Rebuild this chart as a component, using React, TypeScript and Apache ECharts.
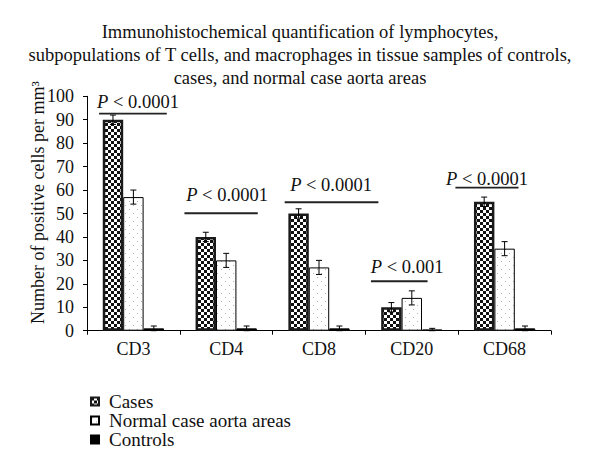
import React, { useEffect, useRef } from "react";
import * as echarts from "echarts";

const categories = ["CD3", "CD4", "CD8", "CD20", "CD68"];
const casesValues = [90, 40, 50, 10, 55];
const casesErrors = [2, 2, 2, 2, 2];
const normalValues = [57, 30, 27, 14, 35];
const normalErrors = [3, 3, 3, 3, 3];
const controlValues = [1, 1, 1, 0.5, 1];
const controlErrors = [1, 1, 1, 0.5, 1];
const yTicks = [0, 10, 20, 30, 40, 50, 60, 70, 80, 90, 100];

// P-value annotations (data units; x offsets in category-band fractions)
const pLabels = ["0.0001", "0.0001", "0.0001", "0.001", "0.0001"];
const pLineValue = [92.6, 50.1, 54.8, 21.1, 61.0];
const pLineFrom = [-0.37, -0.45, -0.37, -0.44, -0.53];
const pLineTo = [0.36, 0.34, 0.64, 0.17, 0.15];
const pTextOffset = [0.05, 0.01, 0.13, -0.05, -0.19];
const pTextValue = [97.4, 57.8, 62.3, 27.1, 64.6];

const FONT = "'Liberation Serif', 'Times New Roman', serif";
const CAT_GAP = 0.34;

function makeChecker() {
  const c = document.createElement("canvas");
  c.width = 6;
  c.height = 6;
  const ctx = c.getContext("2d")!;
  ctx.fillStyle = "#ffffff";
  ctx.fillRect(0, 0, 6, 6);
  ctx.fillStyle = "#111111";
  ctx.fillRect(0, 0, 3, 3);
  ctx.fillRect(3, 3, 3, 3);
  return c;
}

function makeDots() {
  const c = document.createElement("canvas");
  c.width = 8;
  c.height = 8;
  const ctx = c.getContext("2d")!;
  ctx.fillStyle = "#ffffff";
  ctx.fillRect(0, 0, 8, 8);
  ctx.fillStyle = "#b0b0b0";
  ctx.fillRect(1, 1, 1, 1);
  ctx.fillRect(5, 5, 1, 1);
  return c;
}

function errorSeries(values: number[], errors: number[], slot: number) {
  return {
    type: "custom",
    silent: true,
    z: 5,
    data: values.map((v, i) => [i, v, errors[i]]),
    renderItem: (params: any, api: any) => {
      const idx = api.value(0);
      const v = api.value(1);
      const e = api.value(2);
      const band = api.size([1, 0])[0];
      const bw = (band * (1 - CAT_GAP)) / 3;
      const cx = api.coord([idx, 0])[0] + slot * bw;
      const top = api.coord([idx, v + e])[1];
      const bot = api.coord([idx, Math.max(0, v - e)])[1];
      const cap = 3;
      const st = { stroke: "#000", lineWidth: 1 };
      return {
        type: "group",
        children: [
          { type: "line", shape: { x1: cx, y1: top, x2: cx, y2: bot }, style: st },
          { type: "line", shape: { x1: cx - cap, y1: top, x2: cx + cap, y2: top }, style: st },
          { type: "line", shape: { x1: cx - cap, y1: bot, x2: cx + cap, y2: bot }, style: st },
        ],
      };
    },
  };
}

export default function App() {
  const ref = useRef<HTMLDivElement>(null);

  useEffect(() => {
    if (!ref.current) return;
    const chart = echarts.init(ref.current, undefined, { renderer: "svg" });
    const checker = makeChecker();
    const dots = makeDots();

    const pData = categories.map((_, i) => [
      i,
      pLineValue[i],
      pLineFrom[i],
      pLineTo[i],
      pTextOffset[i],
      pTextValue[i],
    ]);

    const option: any = {
      animation: false,
      backgroundColor: "#ffffff",
      title: {
        text:
          "Immunohistochemical quantification of lymphocytes,\nsubpopulations of T cells, and macrophages in tissue samples of controls,\ncases, and normal case aorta areas",
        left: "center",
        top: 15,
        textStyle: {
          fontFamily: FONT,
          fontSize: 18.5,
          fontWeight: "normal",
          color: "#111",
          lineHeight: 23,
        },
      },
      grid: { left: 87, right: 49, top: 96.3, bottom: 141.3, containLabel: false },
      legend: {
        orient: "vertical",
        left: 85,
        top: 387,
        itemWidth: 8,
        itemHeight: 8,
        itemGap: 0,
        icon: "rect",
        data: ["Cases", "Normal case aorta areas", "Controls"],
        textStyle: {
          fontFamily: FONT,
          fontSize: 19,
          color: "#111",
          lineHeight: 19,
          padding: [0, 0, 0, 5],
        },
      },
      xAxis: {
        type: "category",
        data: categories,
        axisLine: { show: true, lineStyle: { color: "#000", width: 1 } },
        axisTick: { show: true, length: 4, lineStyle: { color: "#000" } },
        axisLabel: { fontFamily: FONT, fontSize: 18, color: "#111", margin: 9 },
        splitLine: { show: false },
      },
      yAxis: {
        type: "value",
        min: yTicks[0],
        max: yTicks[yTicks.length - 1],
        interval: yTicks[1] - yTicks[0],
        name: "Number of positive cells per mm³",
        nameLocation: "middle",
        nameGap: 40,
        nameMoveOverlap: false,
        nameTextStyle: {
          fontFamily: FONT,
          fontSize: 18,
          color: "#111",
          padding: [0, 0, 0, 22],
        },
        axisLine: { show: true, lineStyle: { color: "#000", width: 1 } },
        axisTick: { show: true, length: 4, lineStyle: { color: "#000" } },
        axisLabel: { fontFamily: FONT, fontSize: 18, color: "#111", margin: 13 },
        splitLine: { show: false },
      },
      series: [
        {
          name: "Cases",
          type: "bar",
          data: casesValues,
          barGap: "0%",
          barCategoryGap: CAT_GAP * 100 + "%",
          itemStyle: {
            color: { image: checker, repeat: "repeat" },
            borderColor: "#1a1a1a",
            borderWidth: 2.5,
          },
        },
        {
          name: "Normal case aorta areas",
          type: "bar",
          data: normalValues,
          barGap: "0%",
          barCategoryGap: CAT_GAP * 100 + "%",
          itemStyle: {
            color: { image: dots, repeat: "repeat" },
            borderColor: "#000",
            borderWidth: 1,
          },
        },
        {
          name: "Controls",
          type: "bar",
          data: controlValues,
          barGap: "0%",
          barCategoryGap: CAT_GAP * 100 + "%",
          itemStyle: { color: "#000", borderColor: "#000", borderWidth: 1 },
        },
        errorSeries(casesValues, casesErrors, -1),
        errorSeries(normalValues, normalErrors, 0),
        errorSeries(controlValues, controlErrors, 1),
        {
          type: "custom",
          silent: true,
          z: 6,
          data: pData,
          renderItem: (params: any, api: any) => {
            const i = params.dataIndex;
            const idx = api.value(0);
            const band = api.size([1, 0])[0];
            const cx = api.coord([idx, 0])[0];
            const ly = api.coord([idx, api.value(1)])[1];
            const ty = api.coord([idx, api.value(5)])[1];
            return {
              type: "group",
              children: [
                {
                  type: "line",
                  shape: {
                    x1: cx + api.value(2) * band,
                    y1: ly,
                    x2: cx + api.value(3) * band,
                    y2: ly,
                  },
                  style: { stroke: "#222", lineWidth: 1.8 },
                },
                {
                  type: "text",
                  style: {
                    text: "{i|P} < " + pLabels[i],
                    x: cx + api.value(4) * band,
                    y: ty,
                    align: "center",
                    verticalAlign: "middle",
                    fontFamily: FONT,
                    fontSize: 18.5,
                    fill: "#111",
                    rich: {
                      i: { fontFamily: FONT, fontSize: 18.5, fontStyle: "italic", fill: "#111" },
                    },
                  },
                },
              ],
            };
          },
        },
      ],
    };

    chart.setOption(option);
    return () => chart.dispose();
  }, []);

  return (
    <div
      ref={ref}
      style={{ position: "absolute", left: 0, top: 0, width: 600, height: 472 }}
    />
  );
}
